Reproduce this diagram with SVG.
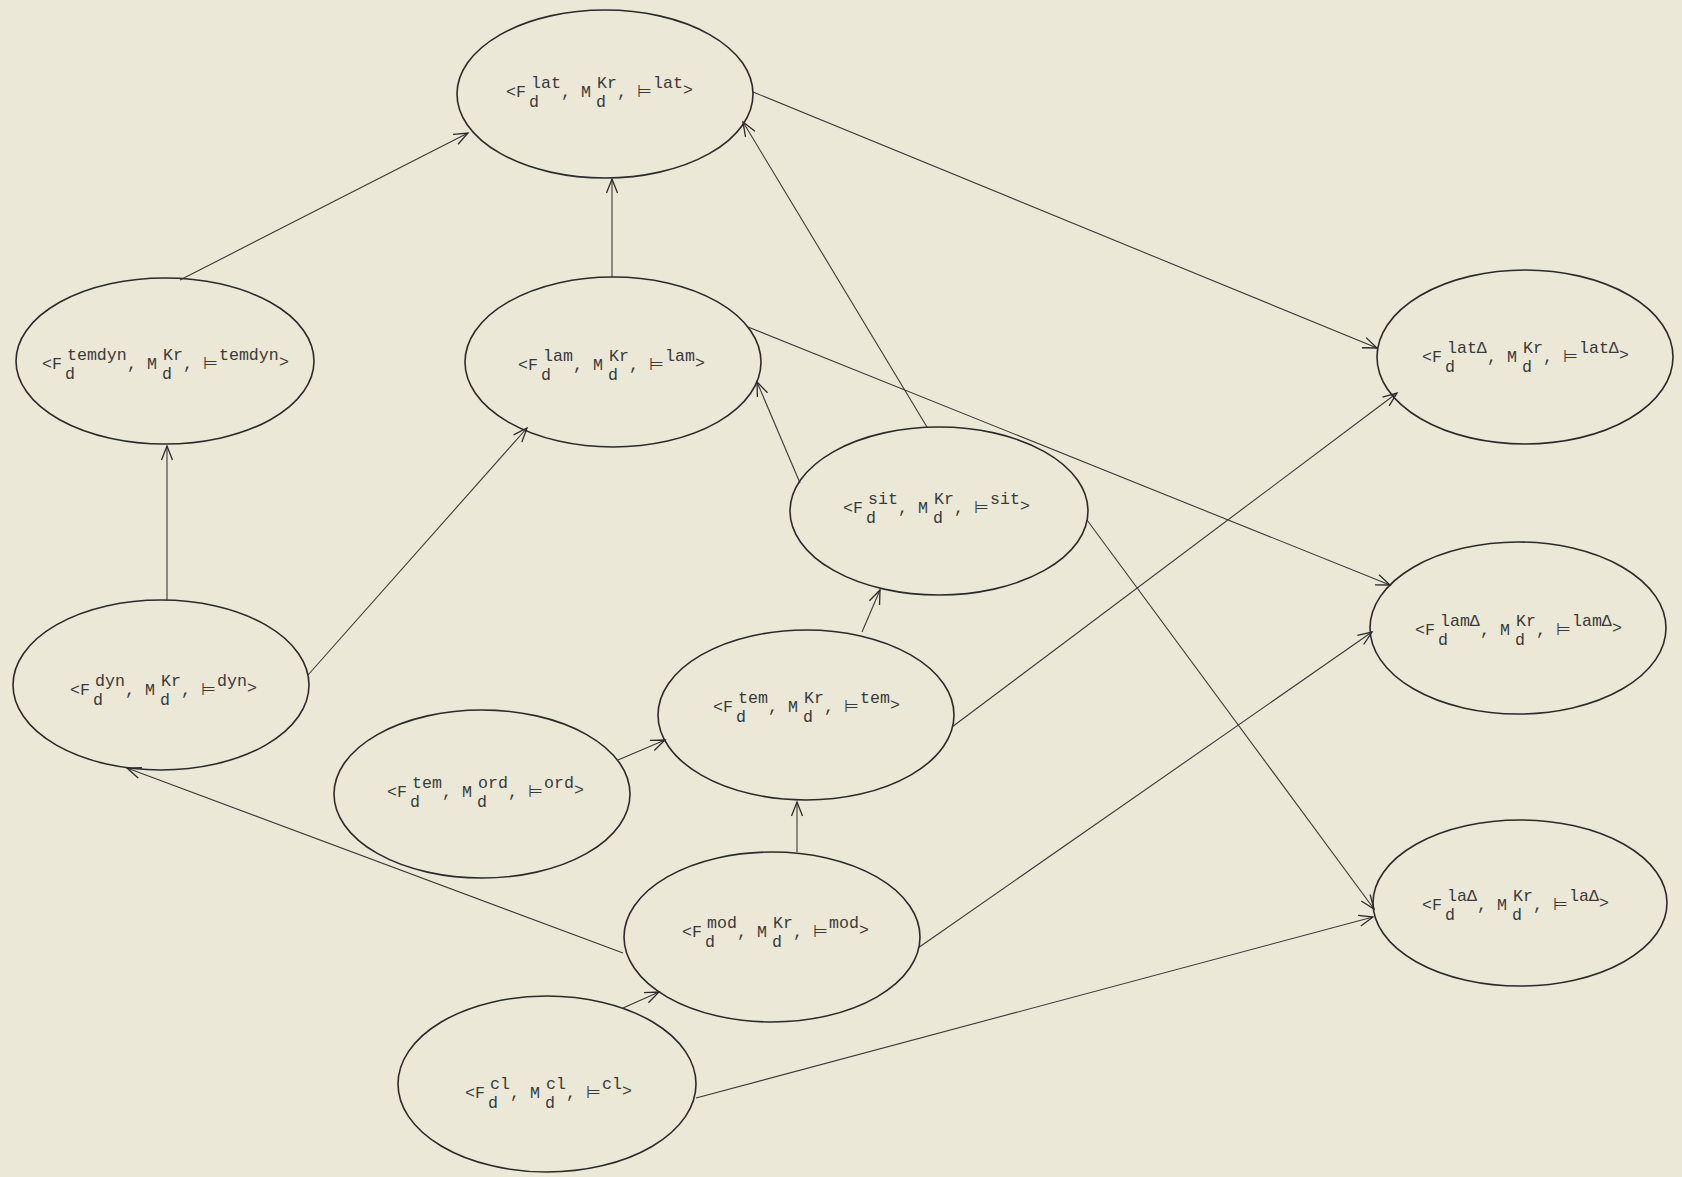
<svg xmlns="http://www.w3.org/2000/svg" width="1682" height="1177" viewBox="0 0 1682 1177">
<style>
.bg{fill:#ebe8d7}
.node ellipse{fill:none;stroke:#2b2b2b;stroke-width:1.6}
.edge{fill:none;stroke:#3a3a3a;stroke-width:1.1;marker-end:url(#arr)}
text{font-family:"Liberation Mono","DejaVu Sans Mono",monospace;font-size:16.6px;fill:#3a3a3a}
</style>
<defs>
<marker id="arr" viewBox="-16 -8 18 16" refX="0" refY="0" markerWidth="18" markerHeight="16" markerUnits="userSpaceOnUse" orient="auto">
<path d="M-14,-5.5 L0,0 L-14,5.5" fill="none" stroke="#2b2b2b" stroke-width="1.3"/>
</marker>
</defs>
<rect class="bg" x="0" y="0" width="1682" height="1177"/>

<g id="connectors">
<line class="edge" x1="180" y1="280" x2="468" y2="133"/>
<line class="edge" x1="612" y1="277" x2="612" y2="179"/>
<line class="edge" x1="753" y1="92" x2="1377" y2="348"/>
<line class="edge" x1="748" y1="327" x2="1390" y2="585"/>
<line class="edge" x1="927" y1="427" x2="743" y2="122"/>
<line class="edge" x1="800" y1="483" x2="757" y2="382"/>
<line class="edge" x1="1087" y1="520" x2="1374" y2="909"/>
<line class="edge" x1="862" y1="632" x2="880" y2="590"/>
<line class="edge" x1="952" y1="727" x2="1397" y2="393"/>
<line class="edge" x1="618" y1="760" x2="665" y2="740"/>
<line class="edge" x1="797" y1="852" x2="797" y2="802"/>
<line class="edge" x1="623" y1="953" x2="127" y2="768"/>
<line class="edge" x1="918" y1="948" x2="1372" y2="632"/>
<line class="edge" x1="623" y1="1008" x2="659" y2="992"/>
<line class="edge" x1="696" y1="1098" x2="1373" y2="917"/>
<line class="edge" x1="167" y1="600" x2="167" y2="446"/>
<line class="edge" x1="308" y1="675" x2="527" y2="428"/>
</g>

<g id="n-lat" class="node">
<ellipse cx="605" cy="94" rx="148" ry="84"/>
<text><tspan x="506" y="97">&lt;F</tspan><tspan x="531" y="88">lat</tspan><tspan x="529" y="107">d</tspan><tspan x="561" y="97">, M</tspan><tspan x="597" y="88">Kr</tspan><tspan x="596" y="107">d</tspan><tspan x="617" y="97">,</tspan><tspan x="637" y="97">⊨</tspan><tspan x="653" y="88">lat</tspan><tspan x="683" y="95">&gt;</tspan></text>
</g>

<g id="n-temdyn" class="node">
<ellipse cx="165" cy="361" rx="149" ry="83"/>
<text><tspan x="42" y="369">&lt;F</tspan><tspan x="67" y="360">temdyn</tspan><tspan x="65" y="379">d</tspan><tspan x="127" y="369">, M</tspan><tspan x="163" y="360">Kr</tspan><tspan x="162" y="379">d</tspan><tspan x="183" y="369">,</tspan><tspan x="203" y="369">⊨</tspan><tspan x="219" y="360">temdyn</tspan><tspan x="279" y="367">&gt;</tspan></text>
</g>

<g id="n-lam" class="node">
<ellipse cx="613" cy="362" rx="148" ry="85"/>
<text><tspan x="518" y="370">&lt;F</tspan><tspan x="543" y="361">lam</tspan><tspan x="541" y="380">d</tspan><tspan x="573" y="370">, M</tspan><tspan x="609" y="361">Kr</tspan><tspan x="608" y="380">d</tspan><tspan x="629" y="370">,</tspan><tspan x="649" y="370">⊨</tspan><tspan x="665" y="361">lam</tspan><tspan x="695" y="368">&gt;</tspan></text>
</g>

<g id="n-latD" class="node">
<ellipse cx="1525" cy="357" rx="148" ry="87"/>
<text><tspan x="1422" y="362">&lt;F</tspan><tspan x="1447" y="353">latΔ</tspan><tspan x="1445" y="372">d</tspan><tspan x="1487" y="362">, M</tspan><tspan x="1523" y="353">Kr</tspan><tspan x="1522" y="372">d</tspan><tspan x="1543" y="362">,</tspan><tspan x="1563" y="362">⊨</tspan><tspan x="1579" y="353">latΔ</tspan><tspan x="1619" y="360">&gt;</tspan></text>
</g>

<g id="n-sit" class="node">
<ellipse cx="939" cy="511" rx="149" ry="84"/>
<text><tspan x="843" y="513">&lt;F</tspan><tspan x="868" y="504">sit</tspan><tspan x="866" y="523">d</tspan><tspan x="898" y="513">, M</tspan><tspan x="934" y="504">Kr</tspan><tspan x="933" y="523">d</tspan><tspan x="954" y="513">,</tspan><tspan x="974" y="513">⊨</tspan><tspan x="990" y="504">sit</tspan><tspan x="1020" y="511">&gt;</tspan></text>
</g>

<g id="n-lamD" class="node">
<ellipse cx="1518" cy="628" rx="148" ry="86"/>
<text><tspan x="1415" y="635">&lt;F</tspan><tspan x="1440" y="626">lamΔ</tspan><tspan x="1438" y="645">d</tspan><tspan x="1480" y="635">, M</tspan><tspan x="1516" y="626">Kr</tspan><tspan x="1515" y="645">d</tspan><tspan x="1536" y="635">,</tspan><tspan x="1556" y="635">⊨</tspan><tspan x="1572" y="626">lamΔ</tspan><tspan x="1612" y="633">&gt;</tspan></text>
</g>

<g id="n-dyn" class="node">
<ellipse cx="161" cy="685" rx="148" ry="85"/>
<text><tspan x="70" y="695">&lt;F</tspan><tspan x="95" y="686">dyn</tspan><tspan x="93" y="705">d</tspan><tspan x="125" y="695">, M</tspan><tspan x="161" y="686">Kr</tspan><tspan x="160" y="705">d</tspan><tspan x="181" y="695">,</tspan><tspan x="201" y="695">⊨</tspan><tspan x="217" y="686">dyn</tspan><tspan x="247" y="693">&gt;</tspan></text>
</g>

<g id="n-tem" class="node">
<ellipse cx="806" cy="715" rx="148" ry="85"/>
<text><tspan x="713" y="712">&lt;F</tspan><tspan x="738" y="703">tem</tspan><tspan x="736" y="722">d</tspan><tspan x="768" y="712">, M</tspan><tspan x="804" y="703">Kr</tspan><tspan x="803" y="722">d</tspan><tspan x="824" y="712">,</tspan><tspan x="844" y="712">⊨</tspan><tspan x="860" y="703">tem</tspan><tspan x="890" y="710">&gt;</tspan></text>
</g>

<g id="n-ord" class="node">
<ellipse cx="482" cy="794" rx="148" ry="84"/>
<text><tspan x="387" y="797">&lt;F</tspan><tspan x="412" y="788">tem</tspan><tspan x="410" y="807">d</tspan><tspan x="442" y="797">, M</tspan><tspan x="478" y="788">ord</tspan><tspan x="477" y="807">d</tspan><tspan x="508" y="797">,</tspan><tspan x="528" y="797">⊨</tspan><tspan x="544" y="788">ord</tspan><tspan x="574" y="795">&gt;</tspan></text>
</g>

<g id="n-mod" class="node">
<ellipse cx="772" cy="937" rx="148" ry="85"/>
<text><tspan x="682" y="937">&lt;F</tspan><tspan x="707" y="928">mod</tspan><tspan x="705" y="947">d</tspan><tspan x="737" y="937">, M</tspan><tspan x="773" y="928">Kr</tspan><tspan x="772" y="947">d</tspan><tspan x="793" y="937">,</tspan><tspan x="813" y="937">⊨</tspan><tspan x="829" y="928">mod</tspan><tspan x="859" y="935">&gt;</tspan></text>
</g>

<g id="n-laD" class="node">
<ellipse cx="1520" cy="903" rx="147" ry="83"/>
<text><tspan x="1422" y="910">&lt;F</tspan><tspan x="1447" y="901">laΔ</tspan><tspan x="1445" y="920">d</tspan><tspan x="1477" y="910">, M</tspan><tspan x="1513" y="901">Kr</tspan><tspan x="1512" y="920">d</tspan><tspan x="1533" y="910">,</tspan><tspan x="1553" y="910">⊨</tspan><tspan x="1569" y="901">laΔ</tspan><tspan x="1599" y="908">&gt;</tspan></text>
</g>

<g id="n-cl" class="node">
<ellipse cx="547" cy="1084" rx="149" ry="88"/>
<text><tspan x="465" y="1098">&lt;F</tspan><tspan x="490" y="1089">cl</tspan><tspan x="488" y="1108">d</tspan><tspan x="510" y="1098">, M</tspan><tspan x="546" y="1089">cl</tspan><tspan x="545" y="1108">d</tspan><tspan x="566" y="1098">,</tspan><tspan x="586" y="1098">⊨</tspan><tspan x="602" y="1089">cl</tspan><tspan x="622" y="1096">&gt;</tspan></text>
</g>
</svg>
